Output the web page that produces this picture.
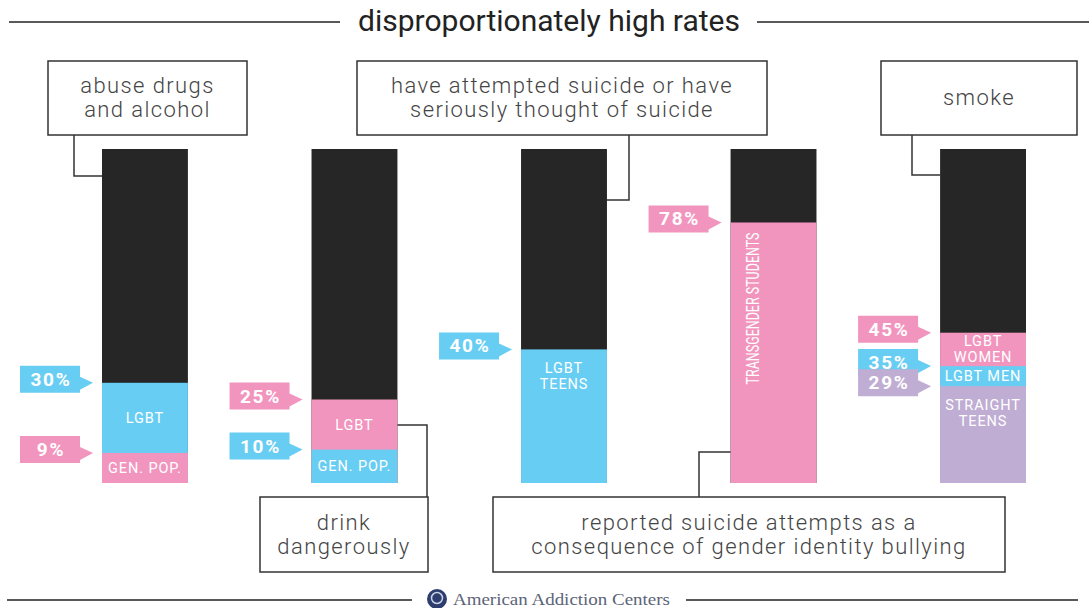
<!DOCTYPE html>
<html>
<head>
<meta charset="utf-8">
<script src="https://cdn.jsdelivr.net/npm/d3@7"></script>
<style>
  body { margin: 0; background: #fff; }
  svg { display: block; font-family: Roboto, sans-serif; }
</style>
</head>
<body>
<div id="chart"></div>
<script>
// data
const bars = ['drugs', 'drink', 'suicide', 'bullying', 'smoke']

const segmentValues = [[30, 9], [25, 10], [40], [78], [45, 35, 29]]

const segmentLabels = [
  [['LGBT'], ['GEN. POP.']],
  [['LGBT'], ['GEN. POP.']],
  [['LGBT', 'TEENS']],
  [['TRANSGENDER STUDENTS']],
  [['LGBT', 'WOMEN'], ['LGBT MEN'], ['STRAIGHT', 'TEENS']]
]

const captions = [
  ['abuse drugs', 'and alcohol'],
  ['drink', 'dangerously'],
  ['have attempted suicide or have', 'seriously thought of suicide'],
  ['reported suicide attempts as a', 'consequence of gender identity bullying'],
  ['smoke']
]

const title = 'disproportionately high rates'
const footer = 'American Addiction Centers'

// styles
const palette = {
  dark: '#262626',
  blue: '#68cdf2',
  pink: '#f295be',
  purple: '#bfadd3'
}
const segmentColors = [
  ['blue', 'pink'],
  ['pink', 'blue'],
  ['blue'],
  ['pink'],
  ['pink', 'blue', 'purple']
]
// where the label sits inside its segment
const labelPlacement = [
  ['mid', 'mid'],
  ['mid', 'mid'],
  ['top'],
  ['rotate'],
  ['mid', 'mid', 'top']
]
// caption boxes and the elbow line that joins each one to its bar
const captionBoxes = [
  { x: 48, y: 61, w: 199, h: 74, lineX: 74, lineY: 176 },
  { x: 260, y: 497, w: 168, h: 75, lineX: 427, lineY: 425 },
  { x: 357, y: 61, w: 410, h: 74, lineX: 629, lineY: 200 },
  { x: 493, y: 497, w: 512, h: 75, lineX: 699, lineY: 452 },
  { x: 881, y: 61, w: 196, h: 74, lineX: 912, lineY: 175 }
]

const width = 1089
const height = 608

const svg = d3
  .select('#chart')
  .append('svg')
  .attr('width', width)
  .attr('height', height)

const xPositionScale = d3
  .scaleBand()
  .domain(bars)
  .range([102, 1026])
  .paddingInner(0.59)
  .paddingOuter(0)

const yPositionScale = d3
  .scaleLinear()
  .domain([0, 100])
  .range([483, 149])

// title with rules either side
svg.append('line')
  .attr('x1', 9).attr('x2', 340).attr('y1', 22).attr('y2', 22)
  .attr('stroke', '#222').attr('stroke-width', 1.5)
svg.append('line')
  .attr('x1', 757).attr('x2', 1089).attr('y1', 22).attr('y2', 22)
  .attr('stroke', '#222').attr('stroke-width', 1.5)
svg.append('text')
  .attr('x', 358)
  .attr('y', 31)
  .attr('font-size', 29)
  .attr('fill', '#222')
  .attr('textLength', 382)
  .attr('lengthAdjust', 'spacingAndGlyphs')
  .text(title)

// flatten segments
const segments = []
bars.forEach((bar, i) => {
  segmentValues[i].forEach((value, j) => {
    segments.push({
      bar: bar,
      value: value,
      next: segmentValues[i][j + 1] || 0,
      lines: segmentLabels[i][j],
      color: palette[segmentColors[i][j]],
      placement: labelPlacement[i][j]
    })
  })
})

// full-height dark bars
svg.selectAll('.bg-bar')
  .data(bars)
  .enter()
  .append('rect')
  .attr('class', 'bg-bar')
  .attr('x', d => xPositionScale(d))
  .attr('y', yPositionScale(100))
  .attr('width', xPositionScale.bandwidth())
  .attr('height', yPositionScale(0) - yPositionScale(100))
  .attr('fill', palette.dark)

svg.selectAll('.seg')
  .data(segments)
  .enter()
  .append('rect')
  .attr('class', 'seg')
  .attr('x', d => xPositionScale(d.bar))
  .attr('y', d => yPositionScale(d.value))
  .attr('width', xPositionScale.bandwidth())
  .attr('height', d => yPositionScale(0) - yPositionScale(d.value))
  .attr('fill', d => d.color)

// labels inside the segments
segments.forEach(d => {
  const cx = xPositionScale(d.bar) + xPositionScale.bandwidth() / 2
  const top = yPositionScale(d.value)
  const bottom = yPositionScale(d.next)

  if (d.placement === 'rotate') {
    svg.append('text')
      .attr('transform', 'translate(' + (xPositionScale(d.bar) + 28) + ',' + (top + 10) + ') rotate(-90)')
      .attr('text-anchor', 'end')
      .attr('font-size', 19)
      .attr('fill', '#fff')
      .attr('textLength', 152)
      .attr('lengthAdjust', 'spacingAndGlyphs')
      .text(d.lines[0])
    return
  }

  const lineHeight = 16
  let firstY
  if (d.placement === 'top') {
    firstY = top + 24
  } else {
    firstY = (top + bottom) / 2 - (d.lines.length - 1) * lineHeight / 2 + 5
  }
  const t = svg.append('text')
    .attr('text-anchor', 'middle')
    .attr('font-size', 14.5)
    .attr('letter-spacing', 0.9)
    .attr('fill', '#fff')
  d.lines.forEach((line, k) => {
    t.append('tspan')
      .attr('x', cx)
      .attr('y', firstY + k * lineHeight)
      .text(line)
  })
})

// percentage callouts
function calloutPath(tipX, tipY) {
  const right = tipX - 13
  const left = right - 60
  const top = tipY - 17
  const bottom = tipY + 10
  return 'M' + left + ',' + top + 'H' + right + 'V' + (tipY - 6) +
    'L' + tipX + ',' + tipY + 'L' + right + ',' + (tipY + 7) +
    'V' + bottom + 'H' + left + 'Z'
}

const callouts = svg.selectAll('.callout')
  .data(segments)
  .enter()
  .append('g')
  .attr('class', 'callout')

callouts.append('path')
  .attr('d', d => calloutPath(xPositionScale(d.bar) - 9, yPositionScale(d.value)))
  .attr('fill', d => d.color)

callouts.append('text')
  .attr('x', d => xPositionScale(d.bar) - 9 - 13 - 30 + 1)
  .attr('y', d => yPositionScale(d.value) + 3)
  .attr('text-anchor', 'middle')
  .attr('font-size', 19)
  .attr('font-weight', 700)
  .attr('letter-spacing', 1.8)
  .attr('fill', '#fff')
  .text(d => d.value + '%')

// caption boxes with elbow connectors
captionBoxes.forEach((box, i) => {
  const bar = bars[i]
  const left = xPositionScale(bar)
  const right = left + xPositionScale.bandwidth()
  const boxEdgeY = box.lineY > box.y + box.h ? box.y + box.h : box.y
  const barEdgeX = box.lineX < left ? left : right

  svg.append('path')
    .attr('d', 'M' + box.lineX + ',' + boxEdgeY + 'V' + box.lineY + 'H' + barEdgeX)
    .attr('fill', 'none')
    .attr('stroke', '#333')
    .attr('stroke-width', 1.5)

  svg.append('rect')
    .attr('x', box.x)
    .attr('y', box.y)
    .attr('width', box.w)
    .attr('height', box.h)
    .attr('fill', '#fff')
    .attr('stroke', '#333')
    .attr('stroke-width', 1.5)

  const lines = captions[i]
  const lineHeight = 24
  const cy = box.y + box.h / 2
  const t = svg.append('text')
    .attr('text-anchor', 'middle')
    .attr('font-size', 22)
    .attr('font-weight', 300)
    .attr('letter-spacing', 1.4)
    .attr('fill', '#444')
  lines.forEach((line, k) => {
    t.append('tspan')
      .attr('x', box.x + box.w / 2)
      .attr('y', cy - (lines.length - 1) * lineHeight / 2 + 7 + k * lineHeight)
      .text(line)
  })
})

// footer
svg.append('line')
  .attr('x1', 7).attr('x2', 412).attr('y1', 600).attr('y2', 600)
  .attr('stroke', '#222').attr('stroke-width', 1.5)
svg.append('line')
  .attr('x1', 686).attr('x2', 1078).attr('y1', 600).attr('y2', 600)
  .attr('stroke', '#222').attr('stroke-width', 1.5)
svg.append('circle')
  .attr('cx', 437).attr('cy', 599).attr('r', 10)
  .attr('fill', '#2d3e6e')
svg.append('circle')
  .attr('cx', 437).attr('cy', 598).attr('r', 5.5)
  .attr('fill', 'none')
  .attr('stroke', '#c9d2e6')
  .attr('stroke-width', 1.5)
svg.append('text')
  .attr('x', 453)
  .attr('y', 605)
  .attr('font-family', '"Liberation Serif", serif')
  .attr('font-size', 17)
  .attr('fill', '#5b6478')
  .attr('textLength', 217)
  .attr('lengthAdjust', 'spacingAndGlyphs')
  .text(footer)
</script>
</body>
</html>
